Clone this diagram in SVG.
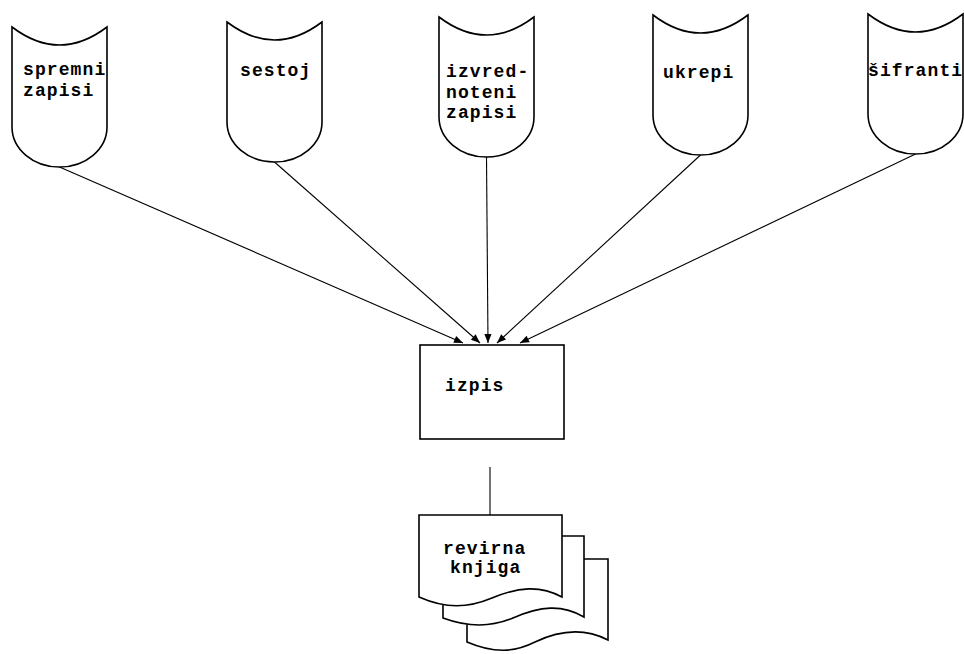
<svg xmlns="http://www.w3.org/2000/svg" width="964" height="654" viewBox="0 0 964 654">
  <style>
    .shape { fill: #fff; stroke: #000; stroke-width: 1.6; }
    .label { font-family: "Liberation Mono", "DejaVu Sans Mono", monospace; font-size: 18px; font-weight: bold; letter-spacing: 1.1px; fill: #000; }
    .edge { stroke: #000; stroke-width: 1.1; fill: none; }
  </style>
  <defs>
    <!-- storage symbol: concave top, rounded bottom -->
    <path id="store" d="M0,0 Q47.5,36 95,0 L95,100 A47.5,40 0 0 1 0,100 Z"/>
    <marker id="arrow" viewBox="0 0 10 10" refX="10" refY="5" markerWidth="11" markerHeight="9" markerUnits="userSpaceOnUse" orient="auto">
      <path d="M0,1 L10,5 L0,9 Z" fill="#000"/>
    </marker>
  </defs>
  <rect width="964" height="654" fill="#fff"/>

  <g id="connectors">
    <line class="edge" x1="59.5" y1="167" x2="463" y2="343" marker-end="url(#arrow)"/>
    <line class="edge" x1="274.5" y1="162" x2="480" y2="343" marker-end="url(#arrow)"/>
    <line class="edge" x1="486.5" y1="157" x2="488" y2="343" marker-end="url(#arrow)"/>
    <line class="edge" x1="700.5" y1="155" x2="497" y2="343" marker-end="url(#arrow)"/>
    <line class="edge" x1="915.5" y1="154" x2="520" y2="343" marker-end="url(#arrow)"/>
    <line class="edge" x1="490" y1="467" x2="490" y2="515"/>
  </g>

  <g id="spremni-zapisi">
    <use href="#store" class="shape" x="12" y="27"/>
    <text class="label" x="23" y="75">spremni</text>
    <text class="label" x="23" y="96">zapisi</text>
  </g>
  <g id="sestoj">
    <use href="#store" class="shape" x="227" y="22"/>
    <text class="label" x="240" y="76">sestoj</text>
  </g>
  <g id="izvrednoteni-zapisi">
    <use href="#store" class="shape" x="439" y="17"/>
    <text class="label" x="446" y="77">izvred-</text>
    <text class="label" x="446" y="98">noteni</text>
    <text class="label" x="446" y="118">zapisi</text>
  </g>
  <g id="ukrepi">
    <use href="#store" class="shape" x="653" y="15"/>
    <text class="label" x="663" y="78">ukrepi</text>
  </g>
  <g id="sifranti">
    <use href="#store" class="shape" x="868" y="14"/>
    <text class="label" x="868" y="76">šifranti</text>
  </g>

  <g id="izpis">
    <rect class="shape" x="420" y="345" width="144" height="94"/>
    <text class="label" x="445" y="391">izpis</text>
  </g>

  <g id="revirna-knjiga">
    <!-- back page -->
    <path class="shape" d="M467,559 L608,559 L608,640 C585,628 560,630 535,642 C515,652 495,654 467,642 Z"/>
    <!-- middle page -->
    <path class="shape" d="M443,536 L584,536 L584,617 C562,604 540,606 513,618 C492,627 470,628 443,618 Z"/>
    <!-- front page -->
    <path class="shape" d="M419,515 L562,515 L562,597 C540,585 518,587 492,598 C468,608 446,609 419,597 Z"/>
    <text class="label" x="443" y="554">revirna</text>
    <text class="label" x="450" y="573">knjiga</text>
  </g>
</svg>
